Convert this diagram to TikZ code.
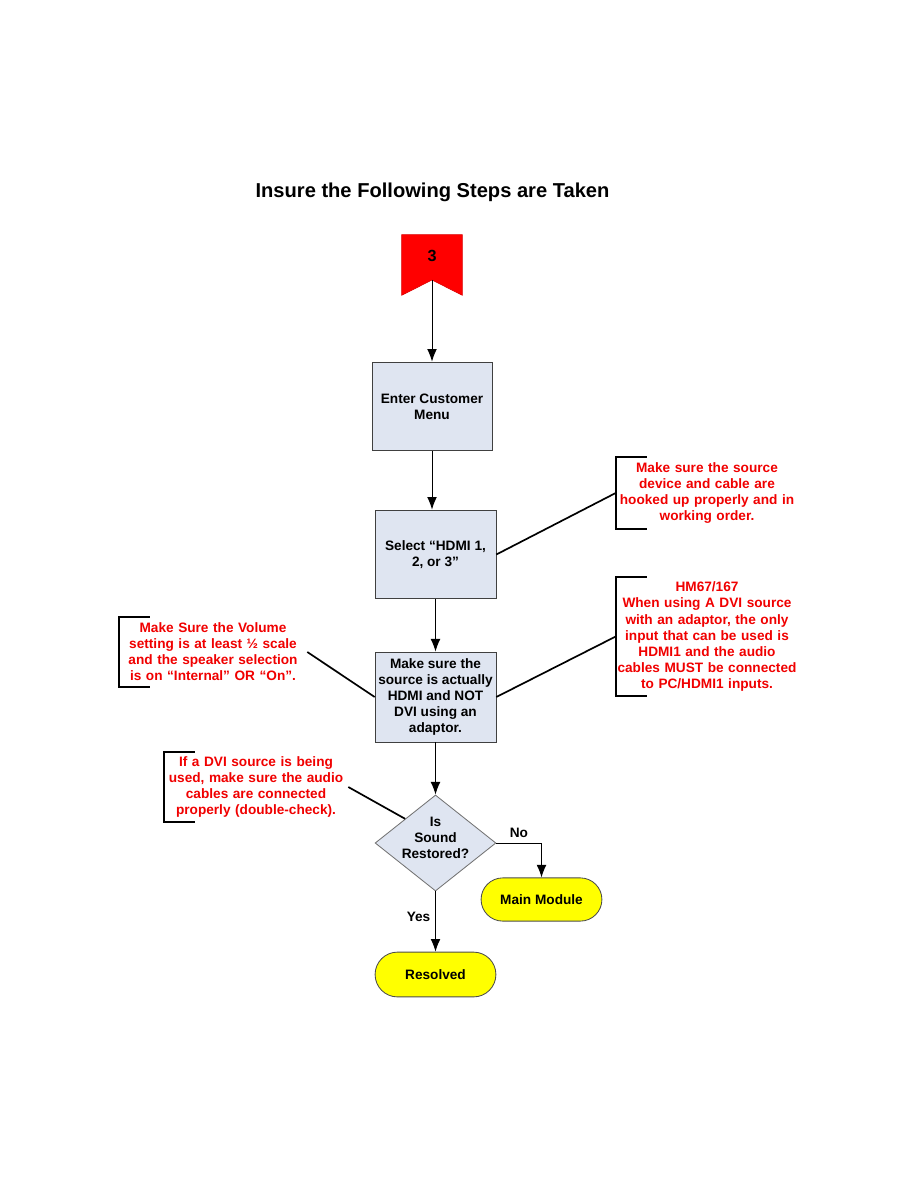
\documentclass[tikz,border=0pt]{standalone}
\usepackage{fontspec}
\setmainfont{Liberation Sans}
\usetikzlibrary{shapes.geometric,shapes.misc,arrows.meta}
\definecolor{boxfill}{HTML}{DFE5F1}
\definecolor{notered}{HTML}{F00000}
\definecolor{termfill}{HTML}{FFFF00}
\definecolor{flagred}{HTML}{FF0000}

\begin{document}
\begin{tikzpicture}[x=0.025cm,y=-0.025cm,
  font=\fontsize{9.7}{11.4}\selectfont\bfseries]
  % Define styles for steps, notes and terminals
  \tikzstyle{stepbox} = [draw=black!75, line width=0.6pt, rectangle, fill=boxfill, minimum width=3.02cm, minimum height=2.22cm, align=center, inner sep=0pt]
  \tikzstyle{decide} = [draw=black!55, line width=0.6pt, diamond, fill=boxfill, minimum width=3.02cm, minimum height=2.4cm, inner sep=0pt, shape aspect=1.26]
  \tikzstyle{term} = [draw=black!70, line width=0.6pt, rounded rectangle, fill=termfill, minimum width=3.02cm, inner sep=0pt]
  \tikzstyle{note} = [text=notered, align=center, inner sep=0pt]
  \tikzstyle{bracket} = [line width=1.5pt, black]
  \tikzstyle{flow} = [line width=0.7pt, -{Latex[length=9pt,width=7pt]}]
  \tikzstyle{tie} = [line width=1.2pt, black]

  \useasboundingbox (0,0) rectangle (918,1188);

  % Title
  \node (title) at (432.5,192) {\fontsize{14.3}{17}\selectfont Insure the Following Steps are Taken};

  % Start flag
  \node (flag) at (432,265) [minimum width=1.5cm, minimum height=1.5cm, inner sep=0pt] {};
  \coordinate (notch) at (432,280);
  \draw[fill=flagred, draw=red!85!black, line width=0.4pt]
    (flag.north west) -- (flag.north east) -- (flag.south east) -- (notch) -- (flag.south west) -- cycle;
  \node (flagnum) at (432,256) {\fontsize{11.5}{13}\selectfont 3};

  % Steps
  \node (menu) at (432,406.5) [stepbox, minimum width=3.0cm] {Enter Customer\\Menu};
  \node (hdmi) at (435.5,554.5) [stepbox] {Select “HDMI 1,\\2, or 3”};
  \node (check) at (435.5,697) [stepbox, minimum height=2.25cm] {Make sure the\\source is actually\\HDMI and NOT\\DVI using an\\adaptor.};
  \node (sound) at (435.5,843) [decide,
    label={[align=center, yshift=0.12cm]center:Is\\Sound\\Restored?}] {};
  \node (mainmod) at (541.5,899.5) [term, minimum height=1.08cm] {Main Module};
  \node (resolved) at (435.5,974.5) [term, minimum height=1.12cm] {Resolved};

  \draw[flow] (notch) -- (menu.north);
  \draw[flow] (menu.south) -- (menu.south |- hdmi.north);
  \draw[flow] (hdmi.south) -- (check.north);
  \draw[flow] (check.south) -- (sound.north);
  \draw[flow] (sound.east) -| node[above, pos=0.25] {No} (mainmod.north);
  \draw[flow] (sound.south) -- node[left, pos=0.43] {Yes} (resolved.north);

  % Notes with brackets
  \node (noteA) at (707,493) [note, text width=4.55cm, minimum height=1.8cm] {Make sure the source\\device and cable are\\hooked up properly and in\\working order.};
  \node (noteB) at (707,636.5) [note, text width=4.55cm, minimum height=2.98cm] {HM67/167\\When using A DVI source\\with an adaptor, the only\\input that can be used is\\HDMI1 and the audio\\cables MUST be connected\\to PC/HDMI1 inputs.};
  \node (noteC) at (213,652) [note, text width=4.7cm, minimum height=1.75cm] {Make Sure the Volume\\setting is at least ½ scale\\and the speaker selection\\is on “Internal” OR “On”.};
  \node (noteD) at (256,787) [note, text width=4.6cm, minimum height=1.75cm] {If a DVI source is being\\used, make sure the audio\\cables are connected\\properly (double-check).};

  \foreach \n in {noteA,noteB,noteC,noteD} {
    \draw[bracket] ([xshift=0.78cm]\n.north west) -- (\n.north west) -- (\n.south west) -- ([xshift=0.78cm]\n.south west);
  }

  \draw[tie] (noteA.west) -- (hdmi.east);
  \draw[tie] (noteB.west) -- (check.east);
  \draw[tie] (noteC.east) -- (check.west);
  \draw[tie] (noteD.east) -- (sound.north west);
\end{tikzpicture}
\end{document}
